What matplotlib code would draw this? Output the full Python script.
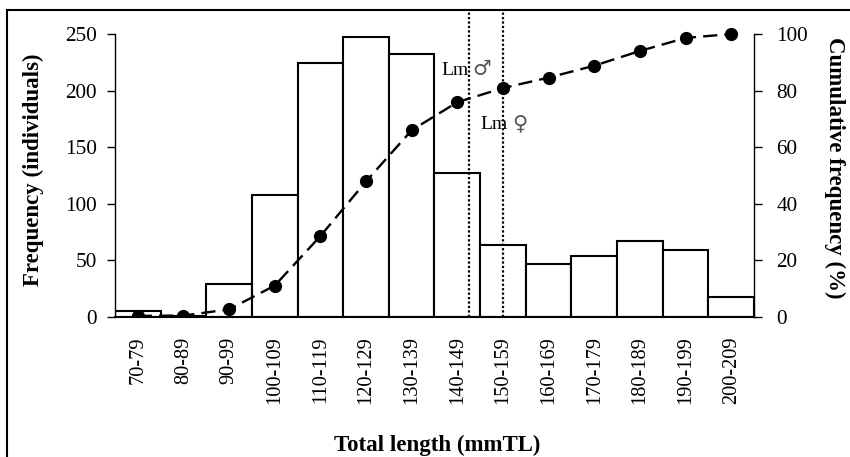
import matplotlib
matplotlib.use("Agg")
import matplotlib.pyplot as plt
from matplotlib.patches import Rectangle

categories = ["70-79", "80-89", "90-99", "100-109", "110-119", "120-129", "130-139",
              "140-149", "150-159", "160-169", "170-179", "180-189", "190-199", "200-209"]
frequency = [5, 1, 29, 108, 224, 247, 232, 127, 64, 47, 54, 67, 59, 18]
cumulative = [0.4, 0.5, 2.7, 11.1, 28.6, 47.9, 66.0, 75.9, 80.9, 84.6, 88.8, 94.0, 98.6, 100.0]
lm_male_pos = 7.26    # position on the category axis (between 140-149 and 150-159)
lm_female_pos = 8.0   # centre of 150-159

plt.rcParams['font.family'] = ['Liberation Serif', 'DejaVu Sans']

W, H = 850, 457
fig = plt.figure(figsize=(W / 100, H / 100), dpi=100)

def px(x0, y0, x1, y1):
    return [x0 / W, 1 - y1 / H, (x1 - x0) / W, (y1 - y0) / H]

def fx(x):
    return x / W

def fy(y):
    return 1 - y / H

top_px = 10
ax = fig.add_axes(px(115, top_px, 754, 317))
ymax = 250 * (317 - top_px) / (317 - 34)
x = list(range(len(categories)))
ax.bar(x, frequency, width=1.0, color="white", edgecolor="black", linewidth=1.5, zorder=2)
ax.set_xlim(-0.5, len(categories) - 0.5)
ax.set_ylim(0, ymax)
ax.set_yticks([0, 50, 100, 150, 200, 250])
ax.spines['top'].set_visible(False)
ax.spines['right'].set_visible(False)
ax.spines['left'].set_bounds(0, 250)
ax.spines['left'].set_linewidth(1.0)
ax.spines['bottom'].set_linewidth(1.5)
ax.set_xticks(x)
ax.set_xticklabels(categories, rotation=90, fontsize=14.7)
ax.tick_params(axis='x', length=0, pad=14)
ax.tick_params(axis='y', labelsize=15.3, length=6, width=1.0, pad=7)

for pos in (lm_male_pos, lm_female_pos):
    ax.axvline(pos, color="black", linestyle=(0, (1, 1)), linewidth=1.6, zorder=3)

ax2 = ax.twinx()
ax2.set_ylim(0, 100 * (317 - top_px) / (317 - 34))
ax2.plot(x, cumulative, color="black", linestyle=(0, (6, 3)), linewidth=1.7,
         marker='o', markersize=8.5, zorder=4)
ax2.set_yticks([0, 20, 40, 60, 80, 100])
for s in ('top', 'left', 'bottom'):
    ax2.spines[s].set_visible(False)
ax2.spines['right'].set_bounds(0, 100)
ax2.spines['right'].set_linewidth(1.0)
ax2.tick_params(axis='y', labelsize=15.3, length=6, width=1.0, pad=10)

fig.text(fx(33), fy(170), "Frequency (individuals)", fontsize=16.5, fontweight='bold',
         rotation=90, ha='center', va='center')
fig.text(fx(835), fy(168), "Cumulative frequency (%)", fontsize=16.5, fontweight='bold',
         rotation=270, ha='center', va='center')

# Lm annotations
fig.text(fx(441), fy(75), "Lm", fontsize=14, ha='left', va='baseline', zorder=5)
fig.text(fx(472), fy(75), "\u2642", fontsize=15, ha='left', va='baseline',
         color='#555555', family=['DejaVu Sans'], zorder=5)
fig.text(fx(480), fy(129), "Lm", fontsize=14, ha='left', va='baseline', zorder=5)
fig.text(fx(512), fy(129), "\u2640", fontsize=15, ha='left', va='baseline',
         color='#555555', family=['DejaVu Sans'], zorder=5)

fig.text(fx(437), fy(451), "Total length (mmTL)", fontsize=16.5, fontweight='bold',
         ha='center', va='baseline')

fig.patches.append(Rectangle((7 / W, -0.1), 1.2, (1 - 10 / H) + 0.1, transform=fig.transFigure,
                             fill=False, edgecolor='black', linewidth=1.5))

fig.savefig("out.png", dpi=100)
